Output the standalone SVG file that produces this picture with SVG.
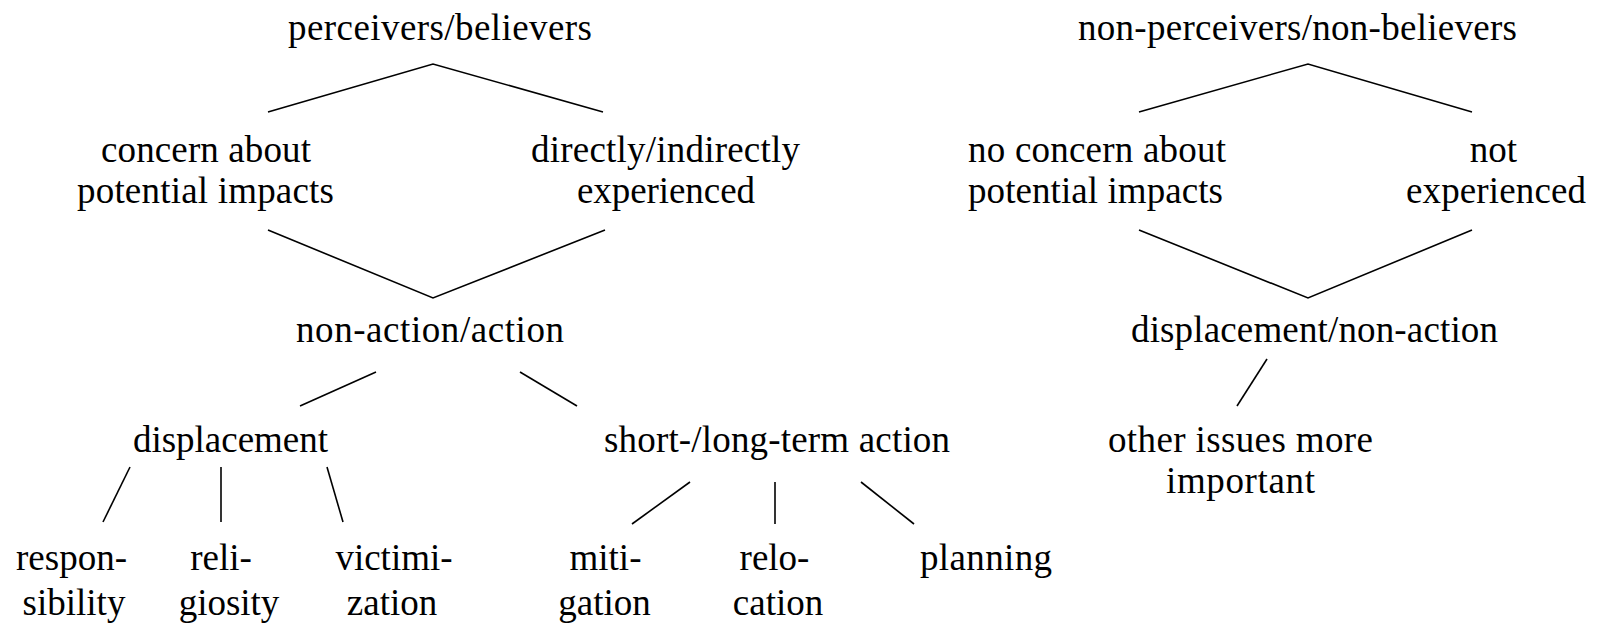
<svg xmlns="http://www.w3.org/2000/svg" width="1604" height="624" viewBox="0 0 1604 624">
<style>
.t{font-family:'Liberation Serif',Tinos,'Times New Roman','DejaVu Serif',serif;font-size:37px;fill:#000;text-anchor:middle}
.c{fill:none;stroke:#000;stroke-width:1.6;stroke-linejoin:miter}
</style>
<rect width="1604" height="624" fill="#fff"/>
<g id="connectors">
<path class="c" d="M268,112 L433,64 L603,112"/>
<path class="c" d="M268,230 L433,298 L605,230"/>
<path class="c" d="M1139,112 L1308,64 L1472,112"/>
<path class="c" d="M1139,230 L1308,298 L1472,230"/>
<path class="c" d="M376,372 L300,406"/>
<path class="c" d="M520,372 L577,406"/>
<path class="c" d="M130,467 L103,522"/>
<path class="c" d="M221,467 L221,522"/>
<path class="c" d="M327,467 L343,522"/>
<path class="c" d="M690,482 L632,524"/>
<path class="c" d="M775,482 L775,524"/>
<path class="c" d="M861,482 L914,524"/>
<path class="c" d="M1267,359 L1237,406"/>
</g>
<g class="t" font-family="Liberation Serif, serif">
<g id="perceivers"><text x="440" y="40" textLength="304" lengthAdjust="spacing">perceivers/believers</text></g>
<g id="concern"><text x="206" y="162" textLength="210" lengthAdjust="spacing">concern about</text><text x="205.5" y="203" textLength="257" lengthAdjust="spacing">potential impacts</text></g>
<g id="experienced"><text x="665.5" y="162" textLength="269" lengthAdjust="spacing">directly/indirectly</text><text x="666" y="203" textLength="178" lengthAdjust="spacing">experienced</text></g>
<g id="nonaction-action"><text x="430" y="342" textLength="268" lengthAdjust="spacing">non-action/action</text></g>
<g id="displacement"><text x="230.5" y="452" textLength="195" lengthAdjust="spacing">displacement</text></g>
<g id="shortlong"><text x="777" y="452" textLength="346" lengthAdjust="spacing">short-/long-term action</text></g>
<g id="responsibility"><text x="71.5" y="570">respon-</text><text x="74" y="615">sibility</text></g>
<g id="religiosity"><text x="221" y="570">reli-</text><text x="229" y="615">giosity</text></g>
<g id="victimization"><text x="394" y="570">victimi-</text><text x="392" y="615">zation</text></g>
<g id="mitigation"><text x="605.5" y="570">miti-</text><text x="604.5" y="615">gation</text></g>
<g id="relocation"><text x="774.5" y="570">relo-</text><text x="778" y="615">cation</text></g>
<g id="planning"><text x="986" y="570" textLength="132" lengthAdjust="spacing">planning</text></g>
<g id="nonperceivers"><text x="1297.5" y="40" textLength="439" lengthAdjust="spacing">non-perceivers/non-believers</text></g>
<g id="noconcern"><text x="1097" y="162" textLength="258" lengthAdjust="spacing">no concern about</text><text x="1095.5" y="203" textLength="255" lengthAdjust="spacing">potential impacts</text></g>
<g id="notexperienced"><text x="1493.5" y="162">not</text><text x="1496" y="203" textLength="180" lengthAdjust="spacing">experienced</text></g>
<g id="displacement-nonaction"><text x="1314.5" y="342" textLength="367" lengthAdjust="spacing">displacement/non-action</text></g>
<g id="otherissues"><text x="1240.5" y="452" textLength="265" lengthAdjust="spacing">other issues more</text><text x="1240.5" y="493" textLength="149" lengthAdjust="spacing">important</text></g>
</g>
</svg>
